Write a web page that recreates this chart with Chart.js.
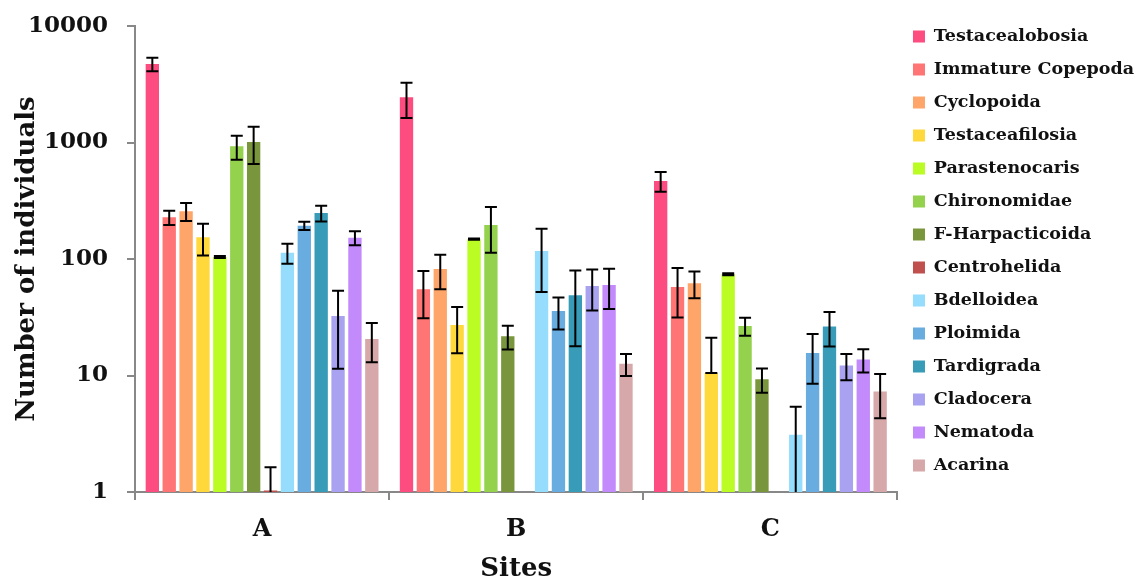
<!DOCTYPE html>
<html>
<head>
<meta charset="utf-8">
<script src="https://cdn.jsdelivr.net/npm/chart.js@4/dist/chart.umd.min.js"></script>
<style>
html,body{margin:0;padding:0;background:#fff;}
#wrap{width:1136px;height:581px;position:relative;}
</style>
</head>
<body>
<div id="wrap"><canvas id="c" width="1136" height="581"></canvas></div>
<script>
const sites = ["A", "B", "C"];
const taxa = ["Testacealobosia","Immature Copepoda","Cyclopoida","Testaceafilosia","Parastenocaris","Chironomidae","F-Harpacticoida","Centrohelida","Bdelloidea","Ploimida","Tardigrada","Cladocera","Nematoda","Acarina"];
const colors = ["#fc4c80","#ff7474","#fea66a","#ffd83c","#bafc24","#94d24e","#7a963c","#c0504d","#96dcfc","#68ace0","#389cb8","#a8a2f0","#c28afa","#d7a8aa"];

// mean values per taxon for sites A, B, C
const testacealobosia = [4720, 2440, 467];
const immatureCopepoda = [228, 55, 57.5];
const cyclopoida = [257, 82, 62];
const testaceafilosia = [154, 27.1, 10.5];
const parastenocaris = [104, 148, 74];
const chironomidae = [927, 196, 26.6];
const fHarpacticoida = [1010, 21.7, 9.3];
const centrohelida = [1.03, null, null];
const bdelloidea = [113, 117, 3.1];
const ploimida = [193, 35.8, 15.6];
const tardigrada = [248, 48.8, 26.4];
const cladocera = [32.4, 58.6, 12.2];
const nematoda = [152, 59.8, 13.7];
const acarina = [20.6, 12.6, 7.3];

// error (upper / lower) per taxon for sites A, B, C
const errHigh = [
  [630, 820, 90],
  [32, 24, 26],
  [45, 27, 16],
  [47, 11.6, 10.6],
  [2, 2, 1.5],
  [215, 83, 4.7],
  [355, 5, 2.2],
  [0.6, null, null],
  [22, 65, 2.3],
  [16, 11, 7.1],
  [38, 31, 8.7],
  [21, 22.5, 3.1],
  [21, 22.5, 3.1],
  [7.6, 2.7, 3]
];
const errLow = [
  [630, 820, 90],
  [32, 24, 26],
  [45, 27, 16],
  [47, 11.6, 0],
  [2, 2, 1.5],
  [215, 83, 4.7],
  [355, 5, 2.2],
  [0.6, null, null],
  [22, 65, 2.3],
  [16, 11, 7.1],
  [38, 31, 8.7],
  [21, 22.5, 3.1],
  [21, 22.5, 3.1],
  [7.6, 2.7, 3]
];
const yTicks = [1, 10, 100, 1000, 10000];

const series = [testacealobosia, immatureCopepoda, cyclopoida, testaceafilosia, parastenocaris, chironomidae, fHarpacticoida, centrohelida, bdelloidea, ploimida, tardigrada, cladocera, nematoda, acarina];

const FONT = "'DejaVu Serif', serif";

const datasets = taxa.map((name, i) => ({
  label: name,
  data: series[i],
  backgroundColor: colors[i],
  borderWidth: 0,
  errHigh: errHigh[i],
  errLow: errLow[i]
}));

const errorBars = {
  id: 'errorBars',
  afterDatasetsDraw(chart) {
    const ctx = chart.ctx;
    const y = chart.scales.y;
    const area = chart.chartArea;
    ctx.save();
    ctx.beginPath();
    ctx.rect(area.left, area.top - 5, area.right - area.left, area.bottom - area.top + 5);
    ctx.clip();
    ctx.strokeStyle = '#000';
    ctx.lineWidth = 2;
    chart.data.datasets.forEach((ds, di) => {
      const meta = chart.getDatasetMeta(di);
      meta.data.forEach((bar, i) => {
        const v = ds.data[i];
        if (v == null) return;
        const hi = ds.errHigh[i], lo = ds.errLow[i];
        if (hi == null) return;
        const x = bar.x;
        const yTop = y.getPixelForValue(v + hi);
        const lowV = v - lo;
        const yBot = lowV > 0 ? y.getPixelForValue(lowV) : area.bottom + 10;
        const cap = 6;
        ctx.beginPath();
        ctx.moveTo(x, yTop); ctx.lineTo(x, Math.min(yBot, area.bottom + 10));
        ctx.moveTo(x - cap, yTop); ctx.lineTo(x + cap, yTop);
        if (lowV > 0) { ctx.moveTo(x - cap, yBot); ctx.lineTo(x + cap, yBot); }
        ctx.stroke();
      });
    });
    ctx.restore();
  }
};

new Chart(document.getElementById('c'), {
  type: 'bar',
  data: { labels: sites, datasets },
  options: {
    responsive: false,
    animation: false,
    layout: { padding: { top: 0, right: -8, left: 0, bottom: 0 } },
    datasets: { bar: { categoryPercentage: 0.93, barPercentage: 0.79 } },
    plugins: {
      legend: {
        position: 'right',
        align: 'start',
        title: { display: true, text: '', font: { size: 1 }, padding: { top: 5.5, bottom: 5.5 } },
        labels: {
          boxWidth: 12, boxHeight: 12, padding: 15.5,
          color: '#111',
          font: { family: FONT, size: 17.5, weight: 'bold' }
        }
      },
      tooltip: { enabled: false }
    },
    scales: {
      x: {
        afterFit(s) { s.height = 89; },
        grid: { drawOnChartArea: false, color: '#888', tickLength: 8, lineWidth: 2 },
        border: { color: '#888', width: 2 },
        ticks: { color: '#111', font: { family: FONT, size: 24, weight: 'bold' }, padding: 15 },
        title: { display: true, text: 'Sites', color: '#111', font: { family: FONT, size: 26, weight: 'bold' }, padding: { top: 0, bottom: -4 } }
      },
      y: {
        type: 'logarithmic',
        min: 1, max: 10000,
        afterFit(s) { s.width = 135; s.paddingTop = 26; },
        afterBuildTicks(scale) { scale.ticks = yTicks.map(v => ({ value: v })); },
        grid: { drawOnChartArea: false, color: '#888', tickLength: 8, lineWidth: 2 },
        border: { color: '#888', width: 2 },
        ticks: {
          color: '#111', font: { family: FONT, size: 23, weight: 'bold' }, padding: 19,
          callback: (v) => String(v)
        },
        title: { display: true, text: 'Number of individuals', color: '#111', font: { family: FONT, size: 26, weight: 'bold' }, padding: { top: 12, bottom: 0 } }
      }
    }
  },
  plugins: [errorBars]
});
</script>
</body>
</html>
